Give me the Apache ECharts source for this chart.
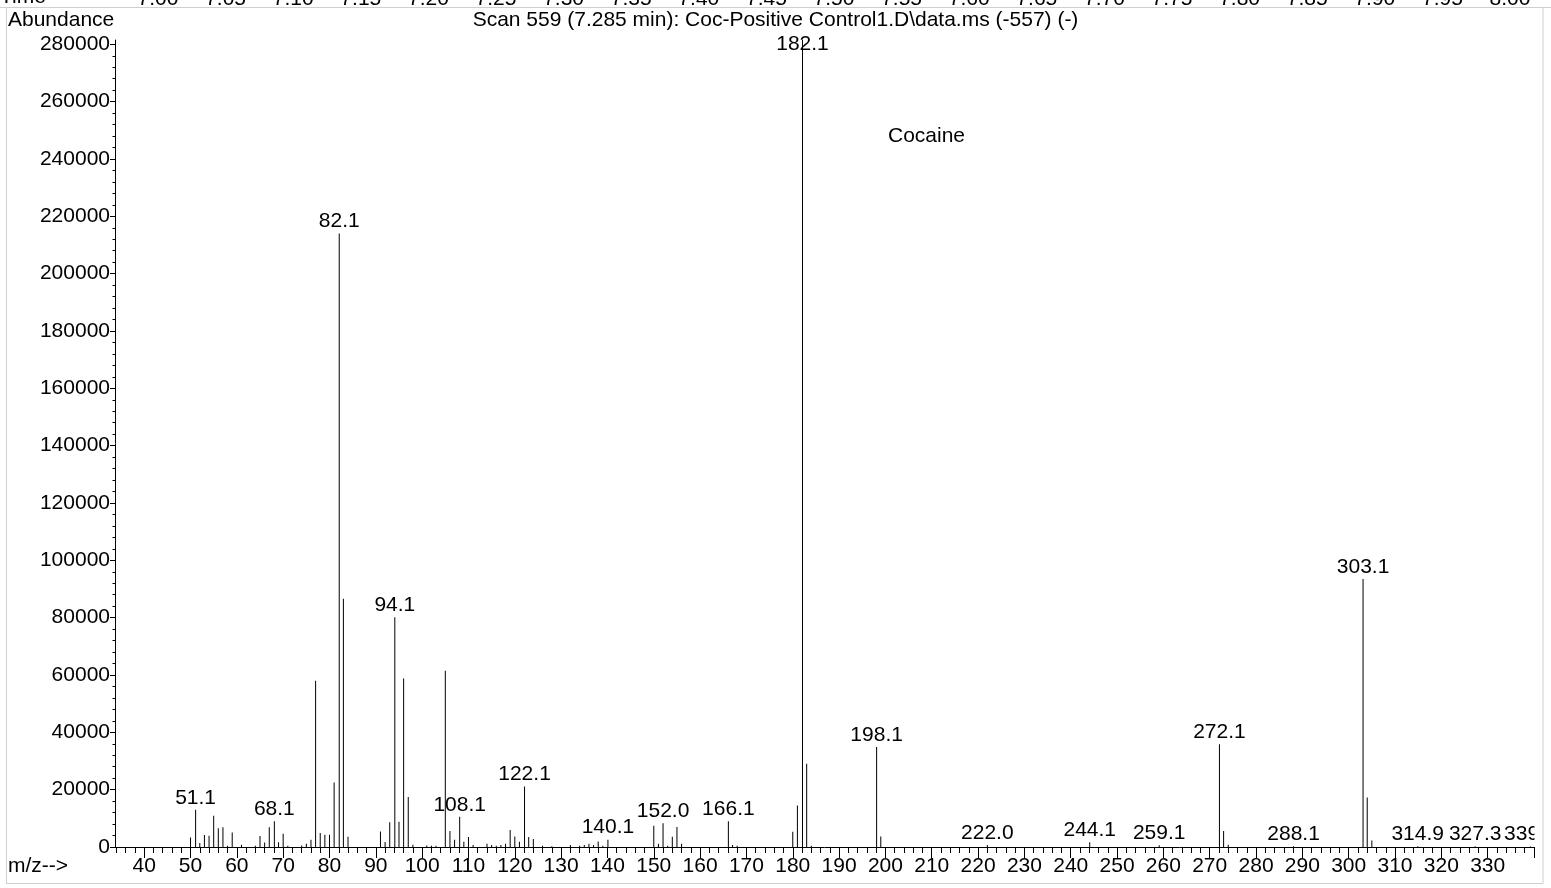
<!DOCTYPE html>
<html>
<head>
<meta charset="utf-8">
<title>Scan 559 (7.285 min)</title>
<script src="https://cdn.jsdelivr.net/npm/echarts@6/dist/echarts.min.js"></script>
<style>
  html, body { margin: 0; padding: 0; background: #fff; }
  #chart { width: 1551px; height: 888px; }
</style>
</head>
<body>
<div id="chart"></div>
<script>
// spectrum peaks, m/z and abundance
var mzValues = [50, 51.1, 52, 53, 54, 55, 56, 57, 58, 59, 61, 64, 65, 66, 67, 68.1, 69, 70, 71,
  74, 75, 76, 77, 78, 79, 80, 81, 82.1, 83, 84, 91, 92, 93, 94.1, 95, 96, 97, 98,
  101, 102, 103, 105, 106, 107, 108.1, 109, 110, 111, 114, 115, 116, 117, 118, 119, 120, 121,
  122.1, 123, 124, 126, 128, 132, 134, 135, 136, 137, 138, 139, 140.1, 150, 151, 152.0, 153,
  154, 155, 156, 166.1, 167, 168, 180, 181, 182.1, 183, 184, 198.1, 199, 222.0, 244.1, 259.1,
  272.1, 273, 274, 288.1, 303.1, 304, 305, 314.9, 327.3, 339.2];
var abundances = [3350, 13000, 1400, 4200, 3900, 10900, 6500, 6850, 450, 5100, 800, 450, 3800, 1600, 6850, 8950, 1700, 4650, 450,
  550, 1150, 2550, 58000, 4900, 4300, 4300, 22500, 214000, 86600, 3600, 5450, 1750, 8600, 80100, 8800, 58800, 17400, 800,
  550, 450, 450, 61500, 5600, 2550, 10550, 1850, 3500, 700, 1150, 700, 450, 700, 1150, 5900, 3700, 1850,
  21100, 3500, 2800, 450, 300, 700, 450, 700, 1150, 700, 1950, 450, 2550, 7450, 1150, 8250, 450,
  3600, 7000, 1150, 8950, 700, 450, 5350, 14500, 281500, 29000, 450, 34900, 3700, 700, 1650, 600,
  35800, 5600, 800, 300, 93500, 17300, 2300, 300, 300, 200];
var labelledPeaks = [51.1, 68.1, 82.1, 94.1, 108.1, 122.1, 140.1, 152.0, 166.1, 182.1, 198.1,
  222.0, 244.1, 259.1, 272.1, 288.1, 303.1, 314.9, 327.3, 339.2];
var basePeak = 182.1;

var xMajorTicks = [40, 50, 60, 70, 80, 90, 100, 110, 120, 130, 140, 150, 160, 170, 180, 190, 200,
  210, 220, 230, 240, 250, 260, 270, 280, 290, 300, 310, 320, 330, 340];
var xTickLabels = [40, 50, 60, 70, 80, 90, 100, 110, 120, 130, 140, 150, 160, 170, 180, 190, 200,
  210, 220, 230, 240, 250, 260, 270, 280, 290, 300, 310, 320, 330];
var yTickLabels = [0, 20000, 40000, 60000, 80000, 100000, 120000, 140000, 160000, 180000,
  200000, 220000, 240000, 260000, 280000];
var timeMin = 7.0, timeMax = 8.0, timeStep = 0.05;

var mzMin = 33.7, mzMax = 340, abMax = 281500;
var FONT = "'Liberation Sans', Arial, sans-serif";
var FS = 21;

// minor ticks: every 2 on m/z, every 4000 on abundance
var xMinorTicks = [];
for (var m = 34; m <= mzMax; m += 2) {
  if (m % 10 !== 0) xMinorTicks.push(m);
}
var yMinorTicks = [];
for (var a = 4000; a < abMax; a += 4000) {
  if (a % 20000 !== 0) yMinorTicks.push(a);
}

var peakData = mzValues.map(function (mz, i) {
  var item = { value: [mz, abundances[i]] };
  if (labelledPeaks.indexOf(mz) >= 0) {
    item.label = { show: true };
    if (mz === basePeak) {
      item.label.position = 'insideTop';
      item.label.distance = -6;
    }
  }
  return item;
});

var chart = echarts.init(document.getElementById('chart'), null, { renderer: 'canvas' });

var option = {
  animation: false,
  backgroundColor: '#fff',
  textStyle: { fontFamily: FONT },
  grid: [
    { left: 115, right: 17, top: 40, bottom: 41, containLabel: false },
    // strip of the chromatogram time axis above, mostly off the page
    { left: 158, right: 41, top: -40, height: 20, containLabel: false }
  ],
  xAxis: [
    {
      type: 'value', gridIndex: 0, min: mzMin, max: mzMax,
      position: 'bottom',
      axisLine: { show: true, onZero: false, lineStyle: { color: '#000', width: 1 } },
      axisTick: { show: true, length: 11, customValues: xMajorTicks, lineStyle: { color: '#000' } },
      axisLabel: { show: true, customValues: xTickLabels, margin: 9, fontSize: FS, color: '#000', fontFamily: FONT },
      splitLine: { show: false }
    },
    {
      type: 'value', gridIndex: 0, min: mzMin, max: mzMax,
      position: 'bottom',
      axisLine: { show: false, onZero: false },
      axisTick: { show: true, length: 6, customValues: xMinorTicks, lineStyle: { color: '#000' } },
      axisLabel: { show: false },
      splitLine: { show: false }
    },
    {
      type: 'value', gridIndex: 1, min: timeMin, max: timeMax, interval: timeStep,
      position: 'bottom',
      axisLine: { show: false },
      axisTick: { show: false },
      axisLabel: {
        show: true, margin: 4, fontSize: FS, color: '#000', fontFamily: FONT, interval: 0,
        formatter: function (v) { return v.toFixed(2); }
      },
      splitLine: { show: false }
    }
  ],
  yAxis: [
    {
      type: 'value', gridIndex: 0, min: 0, max: abMax,
      position: 'left',
      axisLine: { show: true, onZero: false, lineStyle: { color: '#000', width: 1 } },
      axisTick: { show: true, length: 5, customValues: yTickLabels, lineStyle: { color: '#000' } },
      axisLabel: {
        show: true, customValues: yTickLabels, margin: 5, fontSize: FS, color: '#000', fontFamily: FONT,
        formatter: function (v) { return String(v); }
      },
      splitLine: { show: false }
    },
    {
      type: 'value', gridIndex: 0, min: 0, max: abMax,
      position: 'left',
      axisLine: { show: false, onZero: false },
      axisTick: { show: true, length: 2.5, customValues: yMinorTicks, lineStyle: { color: '#000' } },
      axisLabel: { show: false },
      splitLine: { show: false }
    },
    { type: 'value', gridIndex: 1, show: false }
  ],
  series: [
    {
      type: 'bar',
      xAxisIndex: 0,
      yAxisIndex: 0,
      barWidth: 1,
      data: peakData,
      itemStyle: { color: '#000' },
      label: {
        show: false,
        position: 'top',
        distance: 1.5,
        fontSize: FS,
        color: '#000',
        fontFamily: FONT,
        formatter: function (p) { return p.value[0].toFixed(1); }
      },
      labelLayout: { hideOverlap: false },
      emphasis: { disabled: true },
      clip: false
    }
  ],
  graphic: [
    // right end of the last peak label is cut at the plot edge
    { type: 'rect', z: 100, shape: { x: 1534.5, y: 815, width: 17, height: 30 }, style: { fill: '#fff' } },
    { type: 'rect', z: 101, shape: { x: 6.5, y: 7.5, width: 1536.5, height: 876 },
      style: { fill: 'none', stroke: '#cfcfcf', lineWidth: 1 } },
    { type: 'line', z: 101, shape: { x1: 0, y1: 7.5, x2: 1551, y2: 7.5 }, style: { stroke: '#cfcfcf', lineWidth: 1 } },
    { type: 'text', z: 102, left: 0, top: -13, style: { text: 'Time', fill: '#000', font: FS + 'px ' + FONT } },
    { type: 'text', z: 102, left: 8, top: 10, style: { text: 'Abundance', fill: '#000', font: FS + 'px ' + FONT } },
    { type: 'text', z: 102, left: 'center', top: 10,
      style: { text: 'Scan 559 (7.285 min): Coc-Positive Control1.D\\data.ms (-557) (-)', fill: '#000', font: FS + 'px ' + FONT } },
    { type: 'text', z: 102, left: 888, top: 126, style: { text: 'Cocaine', fill: '#000', font: FS + 'px ' + FONT } },
    { type: 'text', z: 102, left: 8, top: 856, style: { text: 'm/z-->', fill: '#000', font: FS + 'px ' + FONT } }
  ]
};

chart.setOption(option);
</script>
</body>
</html>
